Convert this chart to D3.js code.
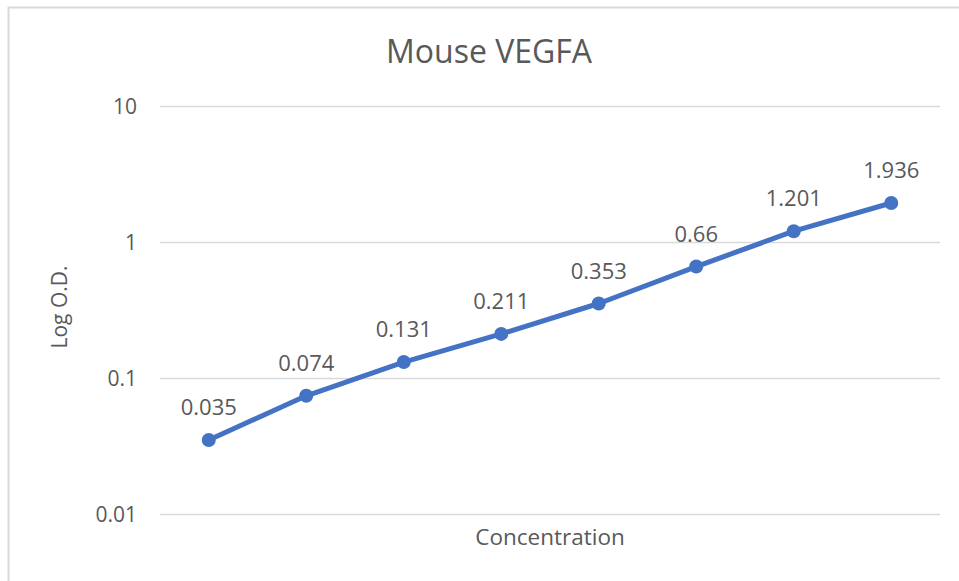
<!DOCTYPE html>
<html>
<head>
<meta charset="utf-8">
<script src="https://cdn.jsdelivr.net/npm/d3@7"></script>
<style>
  body { margin: 0; background: #fff; }
  text { font-family: "Open Sans", "Noto Sans", sans-serif; fill: #595959; }
</style>
</head>
<body>
<script>
//Width and height
var w = 959;
var h = 581;

//Data
var categories = ["1", "2", "3", "4", "5", "6", "7", "8"];
var values = [0.035, 0.074, 0.131, 0.211, 0.353, 0.66, 1.201, 1.936];
var labels = ["0.035", "0.074", "0.131", "0.211", "0.353", "0.66", "1.201", "1.936"];
var yTicks = [0.01, 0.1, 1, 10];
var yTickLabels = ["0.01", "0.1", "1", "10"];

var plot = { left: 160, right: 940, top: 106, bottom: 514 };

var svg = d3.select("body")
  .append("svg")
  .attr("width", w)
  .attr("height", h);

//Chart border (only top and left visible)
svg.append("path")
  .attr("d", "M8.5," + h + "V7.5H" + w)
  .attr("fill", "none")
  .attr("stroke", "#d9d9d9")
  .attr("stroke-width", 2);

//Scales
var x = d3.scalePoint()
  .domain(categories)
  .range([plot.left, plot.right])
  .padding(0.5);

var y = d3.scaleLog()
  .domain([0.01, 10])
  .range([plot.bottom, plot.top]);

//Gridlines
svg.selectAll("line.grid")
  .data(yTicks)
  .enter()
  .append("line")
  .attr("class", "grid")
  .attr("x1", plot.left)
  .attr("x2", plot.right)
  .attr("y1", function(d) { return Math.round(y(d)) + 0.5; })
  .attr("y2", function(d) { return Math.round(y(d)) + 0.5; })
  .attr("stroke", "#d9d9d9")
  .attr("stroke-width", 1.5);

//Y tick labels
svg.selectAll("text.ytick")
  .data(yTicks)
  .enter()
  .append("text")
  .attr("class", "ytick")
  .attr("x", 137)
  .attr("y", function(d) { return y(d); })
  .attr("dy", "0.36em")
  .attr("text-anchor", "end")
  .style("font-size", "21px")
  .text(function(d, i) { return yTickLabels[i]; });

//Title
svg.append("text")
  .attr("x", 489)
  .attr("y", 63)
  .attr("text-anchor", "middle")
  .style("font-size", "32px")
  .text("Mouse VEGFA");

//Axis titles
svg.append("text")
  .attr("x", 550)
  .attr("y", 545)
  .attr("text-anchor", "middle")
  .style("font-size", "22.5px")
  .text("Concentration");

svg.append("text")
  .attr("transform", "translate(67,307) rotate(-90)")
  .attr("text-anchor", "middle")
  .style("font-size", "21px")
  .text("Log O.D.");

//Line
var line = d3.line()
  .x(function(d, i) { return x(categories[i]); })
  .y(function(d) { return y(d); });

svg.append("path")
  .datum(values)
  .attr("d", line)
  .attr("fill", "none")
  .attr("stroke", "#4472c4")
  .attr("stroke-width", 5)
  .attr("stroke-linejoin", "round");

svg.selectAll("circle")
  .data(values)
  .enter()
  .append("circle")
  .attr("cx", function(d, i) { return x(categories[i]); })
  .attr("cy", function(d) { return y(d); })
  .attr("r", 7)
  .attr("fill", "#4472c4");

//Data labels
svg.selectAll("text.label")
  .data(values)
  .enter()
  .append("text")
  .attr("class", "label")
  .attr("x", function(d, i) { return x(categories[i]); })
  .attr("y", function(d) { return y(d) - 25; })
  .attr("text-anchor", "middle")
  .style("font-size", "22px")
  .text(function(d, i) { return labels[i]; });
</script>
</body>
</html>
